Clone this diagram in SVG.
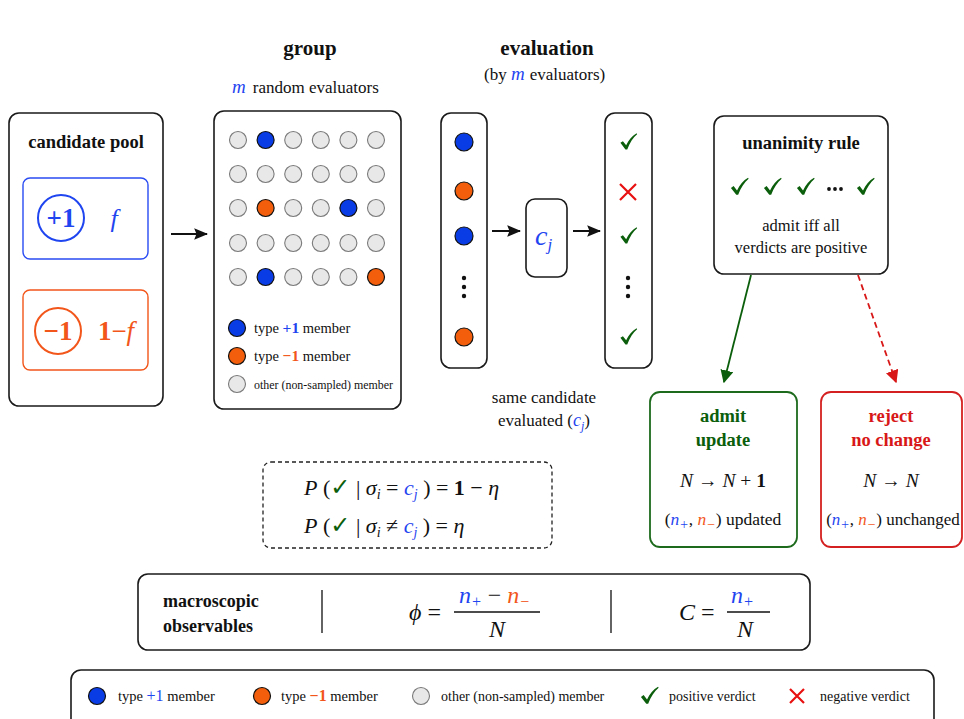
<svg xmlns="http://www.w3.org/2000/svg" width="964" height="719" viewBox="0 0 964 719">
  <defs>
    <marker id="arrBlackL" viewBox="0 0 12 10" refX="11" refY="5" markerWidth="14" markerHeight="12" markerUnits="userSpaceOnUse" orient="auto">
      <path d="M0,0 L12,5 L0,10 L2,5 z" fill="#111"/>
    </marker>
    <marker id="arrGreen" viewBox="0 0 10 10" refX="9" refY="5" markerWidth="13" markerHeight="13" markerUnits="userSpaceOnUse" orient="auto">
      <path d="M0,0 L10,5 L0,10 z" fill="#0b5e0b"/>
    </marker>
    <marker id="arrRed" viewBox="0 0 10 10" refX="9" refY="5" markerWidth="13" markerHeight="13" markerUnits="userSpaceOnUse" orient="auto">
      <path d="M0,0 L10,5 L0,10 z" fill="#d81818"/>
    </marker>
    <!-- positive verdict tick, drawn in a 20x20 box centred on the origin -->
    <symbol id="tick" viewBox="0 0 20 20" overflow="visible">
      <path d="M1,11.5 L3.8,9.6 L7.4,14.2 C10.2,8.4 14,3.6 19,0.8 L19.6,1.9 C15.2,5.6 11.4,11.2 8.6,18.8 L6.6,18.8 Z" fill="#0b5e0b"/>
    </symbol>
  </defs>
  <style>
    text { font-family: "Liberation Serif", "Times New Roman", serif; fill: #111; }
    .box { fill: #fff; stroke: #1a1a1a; stroke-width: 1.6; }
    .title { font-weight: bold; font-size: 21px; text-anchor: middle; }
    .hd { font-weight: bold; font-size: 18.5px; text-anchor: middle; }
    .lbl { font-size: 17px; }
    .leg { font-size: 14px; }
    .it { font-style: italic; }
    .b { font-weight: bold; }
    .blue { fill: #1f45f0; }
    .orng { fill: #f2561a; }
    .green { fill: #0b5e0b; }
    .red { fill: #d81818; }
    .dotB { fill: #0a3ce6; stroke: #111; stroke-width: 1.2; }
    .dotO { fill: #f25e0c; stroke: #111; stroke-width: 1.2; }
    .dotG { fill: #e8e8e8; stroke: #7a7a7a; stroke-width: 1.1; }
    .chk { font-family: "DejaVu Sans", sans-serif; fill: #0b5e0b; font-weight: bold; }
    .xmark { stroke: #e81010; stroke-width: 2.2; fill: none; }
    .ell { fill: #111; }
  </style>

  <!-- column headings -->
  <text class="title" x="310" y="55">group</text>
  <text class="lbl" x="232" y="93"><tspan class="it blue" font-size="19">m</tspan><tspan dx="7">random evaluators</tspan></text>
  <text class="title" x="547" y="55">evaluation</text>
  <text class="lbl" x="484" y="80">(by <tspan class="it blue" font-size="19">m</tspan><tspan dx="5">evaluators)</tspan></text>

  <!-- candidate pool -->
  <g id="candidate-pool">
    <rect class="box" x="9" y="113" width="154" height="293" rx="10"/>
    <text class="hd" x="86" y="148">candidate pool</text>
    <rect x="23" y="178" width="125" height="81" rx="7" fill="none" stroke="#2a4cf2" stroke-width="1.4"/>
    <circle cx="61" cy="218" r="23" fill="none" stroke="#1f45f0" stroke-width="2"/>
    <text class="b blue" x="61" y="227" font-size="27" text-anchor="middle">+1</text>
    <text class="it blue" x="114" y="227" font-size="26" text-anchor="middle">f</text>
    <rect x="23" y="290" width="125" height="80" rx="7" fill="none" stroke="#f2561a" stroke-width="1.4"/>
    <circle cx="58" cy="331" r="23" fill="none" stroke="#f2561a" stroke-width="2"/>
    <text class="b orng" x="58" y="340" font-size="27" text-anchor="middle">−1</text>
    <text class="orng" x="116" y="340" font-size="27" text-anchor="middle"><tspan class="b">1</tspan>−<tspan class="it">f</tspan></text>
  </g>

  <!-- sampled group -->
  <g id="group">
    <rect class="box" x="214" y="111" width="187" height="298" rx="10"/>
    <g>
      <circle class="dotG" cx="238" cy="140" r="8.5"/><circle class="dotB" cx="265.6" cy="140" r="8.5"/><circle class="dotG" cx="293.2" cy="140" r="8.5"/><circle class="dotG" cx="320.8" cy="140" r="8.5"/><circle class="dotG" cx="348.4" cy="140" r="8.5"/><circle class="dotG" cx="376" cy="140" r="8.5"/>
      <circle class="dotG" cx="238" cy="174" r="8.5"/><circle class="dotG" cx="265.6" cy="174" r="8.5"/><circle class="dotG" cx="293.2" cy="174" r="8.5"/><circle class="dotG" cx="320.8" cy="174" r="8.5"/><circle class="dotG" cx="348.4" cy="174" r="8.5"/><circle class="dotG" cx="376" cy="174" r="8.5"/>
      <circle class="dotG" cx="238" cy="208" r="8.5"/><circle class="dotO" cx="265.6" cy="208" r="8.5"/><circle class="dotG" cx="293.2" cy="208" r="8.5"/><circle class="dotG" cx="320.8" cy="208" r="8.5"/><circle class="dotB" cx="348.4" cy="208" r="8.5"/><circle class="dotG" cx="376" cy="208" r="8.5"/>
      <circle class="dotG" cx="238" cy="243" r="8.5"/><circle class="dotG" cx="265.6" cy="243" r="8.5"/><circle class="dotG" cx="293.2" cy="243" r="8.5"/><circle class="dotG" cx="320.8" cy="243" r="8.5"/><circle class="dotG" cx="348.4" cy="243" r="8.5"/><circle class="dotG" cx="376" cy="243" r="8.5"/>
      <circle class="dotG" cx="238" cy="277" r="8.5"/><circle class="dotB" cx="265.6" cy="277" r="8.5"/><circle class="dotG" cx="293.2" cy="277" r="8.5"/><circle class="dotG" cx="320.8" cy="277" r="8.5"/><circle class="dotG" cx="348.4" cy="277" r="8.5"/><circle class="dotO" cx="376" cy="277" r="8.5"/>
    </g>
    <circle class="dotB" cx="237" cy="328" r="8.5"/>
    <text x="254" y="333" font-size="14.5">type <tspan class="blue b" font-size="15.5">+1</tspan> member</text>
    <circle class="dotO" cx="237" cy="356" r="8.5"/>
    <text x="254" y="361" font-size="14.5">type <tspan class="orng b" font-size="15.5">−1</tspan> member</text>
    <circle class="dotG" cx="237" cy="384" r="8.5"/>
    <text x="254" y="389" font-size="13.5" textLength="139" lengthAdjust="spacingAndGlyphs">other (non-sampled) member</text>
  </g>

  <!-- evaluators column -->
  <g id="evaluators">
    <rect class="box" x="441" y="113" width="46" height="255" rx="10"/>
    <circle class="dotB" cx="464" cy="142" r="9"/>
    <circle class="dotO" cx="464" cy="191" r="9"/>
    <circle class="dotB" cx="464" cy="236" r="9"/>
    <circle class="ell" cx="464" cy="278" r="2.2"/>
    <circle class="ell" cx="464" cy="287" r="2.2"/>
    <circle class="ell" cx="464" cy="296" r="2.2"/>
    <circle class="dotO" cx="464" cy="337" r="9"/>
  </g>

  <!-- candidate under evaluation -->
  <g id="candidate">
    <rect class="box" x="526" y="199" width="41" height="78" rx="9"/>
    <text class="it blue" x="535" y="245" font-size="28">c<tspan font-size="17" dy="5">j</tspan></text>
  </g>

  <!-- verdicts column -->
  <g id="verdicts">
    <rect class="box" x="605" y="113" width="47" height="255" rx="10"/>
    <use href="#tick" x="619.5" y="132.5" width="18" height="18"/>
    <path class="xmark" d="M620,184 L636,200 M636,184 L620,200"/>
    <use href="#tick" x="619.5" y="226.5" width="18" height="18"/>
    <circle class="ell" cx="628" cy="278" r="2.2"/>
    <circle class="ell" cx="628" cy="287" r="2.2"/>
    <circle class="ell" cx="628" cy="296" r="2.2"/>
    <use href="#tick" x="619.5" y="327.5" width="18" height="18"/>
  </g>

  <g id="caption">
    <text class="lbl" x="544" y="403" text-anchor="middle">same candidate</text>
    <text class="lbl" x="544" y="426" text-anchor="middle">evaluated (<tspan class="it blue" font-size="18">c<tspan font-size="12" dy="4">j</tspan></tspan><tspan dy="-4">)</tspan></text>
  </g>

  <!-- unanimity rule -->
  <g id="unanimity-rule">
    <rect class="box" x="714" y="116" width="174" height="158" rx="10"/>
    <text class="hd" x="801" y="149" font-size="19">unanimity rule</text>
    <use href="#tick" x="730" y="177" width="19" height="19"/>
    <use href="#tick" x="763" y="177" width="19" height="19"/>
    <use href="#tick" x="796" y="177" width="19" height="19"/>
    <circle class="ell" cx="829" cy="189" r="1.9"/>
    <circle class="ell" cx="835" cy="189" r="1.9"/>
    <circle class="ell" cx="841" cy="189" r="1.9"/>
    <use href="#tick" x="856" y="177" width="19" height="19"/>
    <text x="801" y="231" font-size="16.5" text-anchor="middle">admit iff all</text>
    <text x="801" y="253" font-size="16.5" text-anchor="middle">verdicts are positive</text>
  </g>

  <!-- admit outcome -->
  <g id="admit">
    <rect x="650" y="392" width="147" height="155" rx="10" fill="#fff" stroke="#1d6a1d" stroke-width="1.8"/>
    <text class="hd green" x="723" y="422" font-size="17">admit</text>
    <text class="hd green" x="723" y="446" font-size="17">update</text>
    <text x="723" y="487" font-size="19.5" text-anchor="middle"><tspan class="it">N</tspan> → <tspan class="it">N</tspan> + <tspan class="b">1</tspan></text>
    <text x="723" y="525" font-size="17.5" text-anchor="middle">(<tspan class="it blue">n<tspan font-size="14" dy="4">+</tspan></tspan><tspan dy="-4">, </tspan><tspan class="it orng">n<tspan font-size="14" dy="4">−</tspan></tspan><tspan dy="-4">) updated</tspan></text>
  </g>

  <!-- reject outcome -->
  <g id="reject">
    <rect x="821" y="392" width="141" height="155" rx="10" fill="#fff" stroke="#d42020" stroke-width="1.8"/>
    <text class="hd red" x="891" y="422" font-size="17">reject</text>
    <text class="hd red" x="891" y="446" font-size="17">no change</text>
    <text x="891" y="487" font-size="19.5" text-anchor="middle"><tspan class="it">N</tspan> → <tspan class="it">N</tspan></text>
    <text x="893" y="525" font-size="17" text-anchor="middle">(<tspan class="it blue">n<tspan font-size="14" dy="4">+</tspan></tspan><tspan dy="-4">, </tspan><tspan class="it orng">n<tspan font-size="14" dy="4">−</tspan></tspan><tspan dy="-4">) unchanged</tspan></text>
  </g>

  <!-- verdict probabilities -->
  <g id="verdict-model">
    <rect x="263" y="462" width="289" height="86" rx="8" fill="#fff" stroke="#222" stroke-width="1.3" stroke-dasharray="4 3"/>
    <text x="304" y="495" font-size="22"><tspan class="it">P</tspan> (<tspan class="chk" font-size="24">✓</tspan> | <tspan class="it">σ<tspan font-size="14" dy="4">i</tspan></tspan><tspan dy="-4"> = </tspan><tspan class="it blue">c<tspan font-size="14" dy="4">j</tspan></tspan><tspan dy="-4"> ) = </tspan><tspan class="b">1</tspan> − <tspan class="it">η</tspan></text>
    <text x="304" y="533" font-size="22"><tspan class="it">P</tspan> (<tspan class="chk" font-size="24">✓</tspan> | <tspan class="it">σ<tspan font-size="14" dy="4">i</tspan></tspan><tspan dy="-4"> ≠ </tspan><tspan class="it blue">c<tspan font-size="14" dy="4">j</tspan></tspan><tspan dy="-4"> ) = </tspan><tspan class="it">η</tspan></text>
  </g>

  <!-- macroscopic observables -->
  <g id="observables">
    <rect class="box" x="138" y="574" width="672" height="76" rx="10"/>
    <text x="163" y="607" font-size="18" class="b">macroscopic</text>
    <text x="163" y="632" font-size="18" class="b">observables</text>
    <line x1="322" y1="590" x2="322" y2="633" stroke="#222" stroke-width="1.4"/>
    <line x1="611" y1="590" x2="611" y2="633" stroke="#222" stroke-width="1.4"/>
    <text x="409" y="620" font-size="24"><tspan class="it">ϕ</tspan> =</text>
    <line x1="454" y1="612" x2="540" y2="612" stroke="#111" stroke-width="1.3"/>
    <text x="459" y="603" font-size="24"><tspan class="it blue">n<tspan font-size="16" dy="4">+</tspan></tspan><tspan dy="-4"> − </tspan><tspan class="it orng">n<tspan font-size="16" dy="4">−</tspan></tspan></text>
    <text class="it" x="497" y="637" font-size="24" text-anchor="middle">N</text>
    <text x="679" y="620" font-size="24"><tspan class="it">C</tspan> =</text>
    <line x1="727" y1="612" x2="770" y2="612" stroke="#111" stroke-width="1.3"/>
    <text x="731" y="603" font-size="24"><tspan class="it blue">n<tspan font-size="16" dy="4">+</tspan></tspan></text>
    <text class="it" x="745" y="637" font-size="24" text-anchor="middle">N</text>
  </g>

  <!-- legend -->
  <g id="legend">
    <rect class="box" x="71" y="670" width="863" height="70" rx="10"/>
    <circle class="dotB" cx="97" cy="696" r="8.5"/>
    <text x="118" y="701" font-size="14.5">type <tspan class="blue" font-size="16">+1</tspan> member</text>
    <circle class="dotO" cx="262" cy="696" r="8.5"/>
    <text x="281" y="701" font-size="14.5">type <tspan class="orng b" font-size="16">−1</tspan> member</text>
    <circle class="dotG" cx="421" cy="696" r="8.5"/>
    <text class="leg" x="441" y="701">other (non-sampled) member</text>
    <use href="#tick" x="640" y="686" width="19" height="19"/>
    <text class="leg" x="669" y="701">positive verdict</text>
    <path class="xmark" d="M790,689 L804,703 M804,689 L790,703"/>
    <text class="leg" x="820" y="701">negative verdict</text>
  </g>

  <!-- connectors -->
  <g id="connectors" fill="none">
    <line x1="171" y1="234" x2="207" y2="234" stroke="#111" stroke-width="2" marker-end="url(#arrBlackL)"/>
    <line x1="492" y1="231" x2="520" y2="231" stroke="#111" stroke-width="2" marker-end="url(#arrBlackL)"/>
    <line x1="573" y1="231" x2="600" y2="231" stroke="#111" stroke-width="2" marker-end="url(#arrBlackL)"/>
    <line x1="751" y1="275" x2="724" y2="382" stroke="#0b5e0b" stroke-width="1.8" marker-end="url(#arrGreen)"/>
    <line x1="858" y1="275" x2="896" y2="382" stroke="#d81818" stroke-width="1.8" stroke-dasharray="6 4" marker-end="url(#arrRed)"/>
  </g>
</svg>
